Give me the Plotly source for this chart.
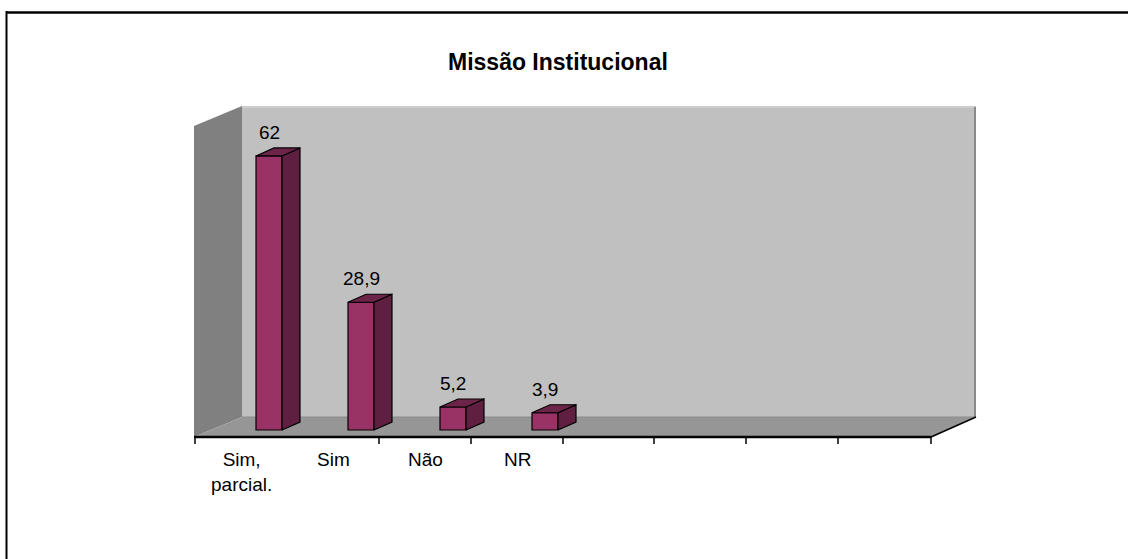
import plotly.graph_objects as go

# ---- data ----
categories = ["Sim,<br>parcial.", "Sim", "Não", "NR"]
values = [62, 28.9, 5.2, 3.9]
value_labels = ["62", "28,9", "5,2", "3,9"]
title_text = "Missão Institucional"

W, H = 1128, 559
PX_PER_CAT = 92.0
X0_PX = 269.0          # pixel of first bar centre
PX_PER_UNIT = 4.42
Y0_PX = 430.0          # pixel of value 0

def dx(px):
    return (px - X0_PX) / PX_PER_CAT

def dy(py):
    return (Y0_PX - py) / PX_PER_UNIT

def paper_x(px):
    return px / W

def paper_y(py):
    return 1 - py / H

FRONT = "#993366"
SIDE = "#5f1f40"
TOP = "#6c2449"
FONT = "Liberation Sans, Arial"

fig = go.Figure()

shapes = []
def poly(pts, fill, line_color=None, lw=0):
    path = "M " + " L ".join(f"{dx(a):.4f},{dy(b):.4f}" for a, b in pts) + " Z"
    shapes.append(dict(type="path", path=path, xref="x", yref="y",
                       fillcolor=fill, line=dict(color=line_color or fill, width=lw),
                       layer="below"))

poly([(194, 126), (242, 106), (242, 417), (194, 437)], "#808080")
poly([(242, 106), (976, 106), (976, 417), (242, 417)], "#c0c0c0")
poly([(194, 437), (242, 417), (976, 417), (931, 437)], "#969696")

def seg(p, q, color, w, layer="above"):
    shapes.append(dict(type="line", xref="x", yref="y",
                       x0=dx(p[0]), y0=dy(p[1]), x1=dx(q[0]), y1=dy(q[1]),
                       line=dict(color=color, width=w), layer=layer))
seg((242, 107), (976, 107), "#cdcdcd", 2, "below")
seg((975, 107), (975, 417), "#8a8a8a", 2, "below")
seg((242, 417), (976, 417), "#8c8c8c", 1, "below")
seg((194, 437), (931, 437), "black", 2.5)
seg((931, 437), (976, 417), "black", 1.5)
for tx in [195, 379, 471, 563, 654, 746, 838, 931]:
    seg((tx, 437), (tx, 444), "black", 1.5)

# border
shapes.append(dict(type="line", xref="paper", yref="paper", x0=paper_x(6), x1=1.0,
                   y0=paper_y(12.5), y1=paper_y(12.5), line=dict(color="black", width=2.5)))
shapes.append(dict(type="line", xref="paper", yref="paper", x0=paper_x(6.5), x1=paper_x(6.5),
                   y0=0, y1=paper_y(11), line=dict(color="black", width=2)))

# bars
bw = 26 / PX_PER_CAT
ddx = 18 / PX_PER_CAT
ddy = 8 / PX_PER_UNIT
xs = list(range(len(values)))
fig.add_trace(go.Bar(x=xs, y=values, width=bw,
                     marker=dict(color=FRONT, line=dict(color="black", width=1.2)),
                     hoverinfo="skip", showlegend=False))
for k, v in zip(xs, values):
    r = k + bw / 2
    l = k - bw / 2
    fig.add_trace(go.Scatter(x=[r, r + ddx, r + ddx, r, r], y=[0, ddy, v + ddy, v, 0],
                             fill="toself", fillcolor=SIDE, mode="lines",
                             line=dict(color="black", width=1.2), hoverinfo="skip", showlegend=False))
    fig.add_trace(go.Scatter(x=[l, l + ddx, r + ddx, r, l], y=[v, v + ddy, v + ddy, v, v],
                             fill="toself", fillcolor=TOP, mode="lines",
                             line=dict(color="black", width=1.2), hoverinfo="skip", showlegend=False))

annotations = []
for k, v, t in zip(xs, values, value_labels):
    annotations.append(dict(x=k, y=v + ddy, xref="x", yref="y", text=t, showarrow=False,
                            yanchor="bottom", yshift=3,
                            font=dict(family=FONT, size=19, color="black")))
for k, c in enumerate(categories):
    annotations.append(dict(x=k - 28 / PX_PER_CAT, y=dy(447), xref="x", yref="y", text=c,
                            showarrow=False, yanchor="top",
                            font=dict(family=FONT, size=19, color="black")))
annotations.append(dict(x=paper_x(558), y=paper_y(62), xref="paper", yref="paper",
                        text="<b>" + title_text + "</b>",
                        showarrow=False, yanchor="middle", xanchor="center",
                        font=dict(family=FONT, size=23, color="black")))

fig.update_layout(
    width=W, height=H, margin=dict(l=0, r=0, t=0, b=0),
    paper_bgcolor="white", plot_bgcolor="white",
    xaxis=dict(range=[dx(0), dx(W)], visible=False, fixedrange=True),
    yaxis=dict(range=[dy(H), dy(0)], visible=False, fixedrange=True),
    shapes=shapes, annotations=annotations, bargap=0, showlegend=False,
)
fig.write_html("out.html", config={"displayModeBar": False, "staticPlot": True},
               post_script="document.body.style.margin='0';document.body.style.overflow='hidden';")
